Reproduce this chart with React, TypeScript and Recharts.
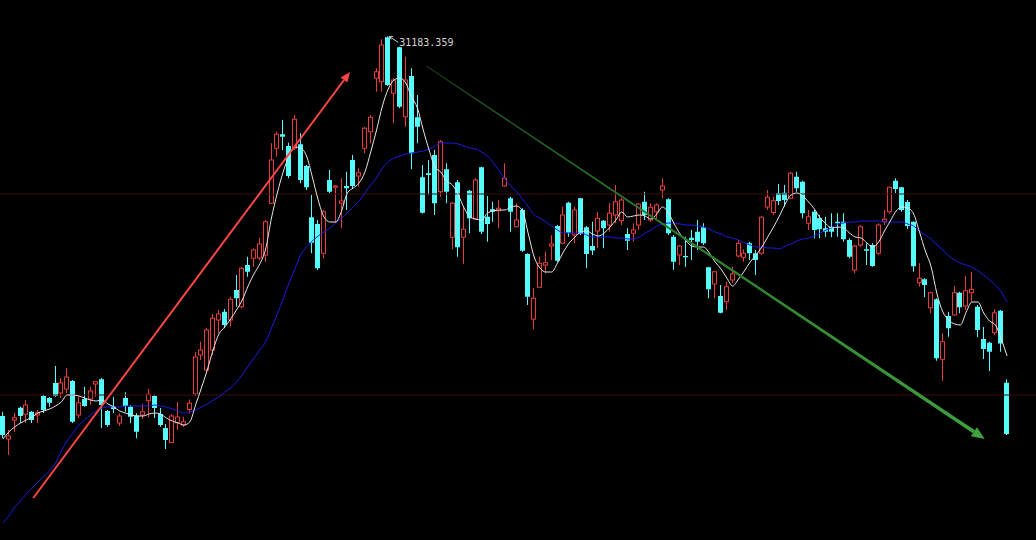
import React from "react";
import {
  Bar,
  ComposedChart,
  Line,
  ReferenceDot,
  ReferenceLine,
  XAxis,
  YAxis
} from "recharts";

// daily OHLC (index points)
const opens = [
  16000, 15080, 15840, 16330, 16070, 16170, 16040, 16800, 16720, 17320,
  16920, 17080, 17400, 16040, 16680, 16680, 17280, 17470, 16200, 16380,
  15720, 16720, 16370, 16020, 16040, 16610, 16800, 16080, 15520, 14940,
  15730, 15640, 16260, 16880, 18440, 17840, 18640, 19840, 20170, 19840,
  21040, 20370, 22040, 22310, 22320, 22440, 24510, 26710, 27270, 26800,
  26710, 26870, 26000, 23950, 23680, 22510, 25440, 25150, 24510, 25200,
  26240, 25600, 26710, 27370, 29510, 29370, 31150, 28910, 30750, 27970,
  29600, 27950, 25550, 25710, 26440, 24970, 25870, 23150, 25350, 23150,
  25010, 23870, 25950, 23970, 24270, 24210, 25200, 24710, 23570, 24240,
  22480, 19870, 21150, 22040, 22800, 23600, 22910, 24530, 23240, 24710,
  23550, 22800, 23400, 23810, 23640, 24040, 23810, 23280, 23310, 23640,
  24570, 23840, 24170, 25040, 24670, 23170, 22440, 22400, 23130, 23370,
  23550, 21950, 21280, 20800, 20570, 21440, 22400, 22350, 22910, 22510,
  22510, 24360, 24140, 24920, 24930, 24710, 25570, 25370, 23710, 24170,
  23910, 23510, 23570, 23770, 23770, 23040, 21840, 22840, 22670, 22840,
  22510, 23770, 24170, 25410, 25150, 24560, 23770, 21330, 21470, 20330,
  20670, 18270, 20000, 20040, 20930, 20400, 20930, 20370, 19080, 18930,
  19330, 20210, 17330
];

const highs = [
  16170, 15440, 16120, 16370, 16640, 16200, 16240, 16840, 16760, 18000,
  17520, 17920, 17440, 16770, 17170, 17170, 17380, 17520, 16240, 16770,
  16110, 16950, 16440, 16110, 16480, 17080, 16840, 16320, 15680, 16080,
  16560, 15970, 16660, 18560, 18970, 19520, 20080, 20240, 20280, 20770,
  21640, 21970, 22370, 22710, 23120, 23840, 26910, 27370, 27840, 26930,
  28040, 27310, 26040, 24840, 23840, 24240, 25840, 25240, 25510, 25770,
  26440, 25910, 27570, 28040, 29910, 31070, 31183.359, 29510, 30770, 30370,
  29910, 28840, 26040, 26240, 26640, 27040, 26110, 24570, 25440, 24370,
  25040, 25510, 25970, 24800, 24570, 24640, 26110, 24770, 24510, 24310,
  22510, 21110, 22370, 22570, 23240, 23640, 24370, 24570, 24370, 24720,
  23600, 23770, 24160, 23840, 24510, 25240, 24710, 23510, 23710, 24510,
  24970, 24510, 24510, 25510, 24710, 23240, 22840, 23170, 23440, 23840,
  23710, 21970, 21800, 21240, 21370, 21970, 23040, 22670, 22970, 22640,
  24000, 25040, 24770, 25280, 25240, 25770, 25770, 25410, 24240, 24240,
  24040, 23970, 24110, 24110, 24110, 23110, 22840, 23640, 22910, 22910,
  23710, 24240, 25170, 25510, 25170, 24640, 23780, 22110, 21510, 20970,
  20710, 19310, 20170, 21200, 20970, 21600, 21770, 20440, 19560, 18970,
  20270, 20240, 17470
];

const lows = [
  15120, 14440, 15360, 15720, 15720, 15720, 15720, 16120, 16370, 16770,
  16720, 16920, 15720, 15920, 16370, 16440, 16770, 15520, 15570, 16110,
  15600, 16170, 15710, 15110, 15880, 15940, 15920, 15570, 14680, 14920,
  15440, 15560, 16110, 16800, 18240, 17760, 18440, 19320, 19510, 19570,
  20370, 20310, 21570, 21970, 22240, 22160, 24500, 26370, 26640, 25510,
  26640, 25310, 25040, 22510, 21840, 22310, 24910, 23720, 23510, 24240,
  25110, 25170, 26510, 26910, 28970, 28970, 29200, 27710, 28310, 27570,
  25870, 26910, 24100, 24840, 24040, 24770, 24510, 22670, 22370, 22080,
  23310, 23840, 23280, 22970, 23770, 23510, 25170, 23370, 23550, 22570,
  20440, 19470, 21110, 21710, 22240, 22170, 22880, 23170, 22910, 23240,
  21910, 22440, 22720, 22710, 23370, 23710, 23640, 22640, 22970, 23440,
  23840, 23770, 23840, 24710, 23240, 21840, 22040, 21970, 22240, 22640,
  22840, 20710, 20710, 20110, 20240, 21310, 22350, 22170, 22240, 21640,
  22440, 24240, 24040, 24440, 24370, 24670, 24970, 23910, 23440, 23110,
  23110, 23170, 23150, 23170, 22970, 22310, 21710, 22770, 22040, 21970,
  22440, 23640, 24110, 24920, 24170, 23480, 21770, 21170, 20750, 20110,
  18210, 17410, 19170, 20020, 20110, 20240, 20570, 19150, 18280, 17800,
  19240, 18570, 15240
];

const closes = [
  15240, 15200, 15930, 16000, 16440, 15840, 16130, 16240, 16530, 16800,
  17320, 17560, 15770, 16530, 16400, 17000, 17370, 16440, 15640, 16280,
  16000, 16400, 15970, 15370, 16170, 16870, 16320, 15640, 15040, 16000,
  15960, 15770, 16510, 18360, 18640, 19440, 19910, 20080, 19640, 20670,
  20710, 21910, 21770, 22640, 22880, 23770, 26240, 27270, 27170, 25600,
  27870, 25440, 25150, 22930, 21910, 24170, 24970, 25200, 24600, 25110,
  25200, 25730, 27510, 27950, 29770, 30840, 29240, 29440, 28370, 29440,
  26510, 27570, 24130, 25640, 24510, 26970, 24970, 24510, 22750, 23470,
  23910, 25440, 23370, 23680, 24170, 24310, 25510, 24170, 23840, 22610,
  20770, 20710, 22110, 22130, 22880, 22210, 24040, 23330, 24240, 23280,
  22480, 22620, 23910, 23510, 24110, 24570, 24640, 23010, 23440, 24480,
  24040, 24350, 24440, 25200, 23310, 22170, 22800, 22350, 23040, 22970,
  22910, 21070, 21770, 20130, 21170, 21680, 22910, 22510, 22510, 22240,
  23950, 24750, 24610, 24600, 24640, 25710, 25110, 24110, 23970, 23440,
  23470, 23370, 23370, 23710, 23070, 22370, 22800, 23570, 22610, 22000,
  23640, 23870, 25150, 25080, 24240, 23600, 21990, 21510, 21240, 20930,
  18310, 18970, 19510, 20930, 20350, 21010, 21070, 19440, 18680, 18570,
  20130, 18900, 15280
];

// white short average and blue long average as drawn in the picture
const ma5 = [
  15080, 15360, 15560, 15720, 15840, 15960, 16120, 16200, 16280, 16400,
  16560, 16840, 16840, 16800, 16720, 16640, 16600, 16640, 16480, 16360,
  16200, 16120, 16040, 16000, 16000, 16080, 16120, 16080, 15920, 15800,
  15720, 15640, 15760, 16440, 17120, 17840, 18640, 19280, 19560, 19880,
  20240, 20640, 21200, 21680, 22080, 22680, 23920, 24920, 25760, 26400,
  26760, 26720, 26400, 25560, 24640, 23960, 23760, 23760, 24200, 24920,
  25120, 25320, 25760, 26560, 27440, 28400, 29080, 29440, 29520, 29320,
  28760, 28320, 27440, 26640, 25960, 25760, 25400, 25240, 24840, 24320,
  23960, 23880, 23840, 24120, 24200, 24240, 24240, 24360, 24400, 24200,
  23280, 22360, 21920, 21760, 21760, 22120, 22560, 22920, 23160, 23360,
  23400, 23280, 23200, 23320, 23560, 23840, 24160, 23960, 24000, 24040,
  24000, 23880, 24080, 24360, 24120, 23680, 23280, 23000, 22800, 22760,
  22760, 22520, 22160, 21880, 21520, 21200, 21480, 21800, 22160, 22440,
  22760, 23160, 23560, 24000, 24480, 24840, 24920, 24800, 24560, 24280,
  23920, 23680, 23520, 23560, 23520, 23320, 23160, 23120, 22920, 22760,
  22960, 23400, 23800, 24200, 24360, 24320, 24080, 23360, 22600, 21960,
  20880, 20160, 19840, 19680, 19640, 20160, 20560, 20560, 20120, 19800,
  19640, 19080, 18400
];

const ma20 = [
  11720, 12000, 12360, 12600, 12880, 13120, 13360, 13600, 13800, 14120,
  14600, 15000, 15320, 15640, 15840, 16040, 16200, 16320, 16360, 16360,
  16360, 16400, 16400, 16400, 16400, 16400, 16440, 16400, 16360, 16280,
  16200, 16120, 16160, 16240, 16360, 16480, 16640, 16760, 16960, 17120,
  17360, 17640, 18000, 18320, 18640, 18960, 19520, 20080, 20680, 21320,
  21880, 22440, 22760, 23000, 23200, 23360, 23520, 23720, 23920, 24120,
  24360, 24600, 24920, 25240, 25520, 25920, 26160, 26320, 26400, 26480,
  26520, 26560, 26600, 26680, 26800, 26920, 26920, 26920, 26880, 26800,
  26720, 26680, 26560, 26400, 26120, 25800, 25480, 25200, 24960, 24680,
  24360, 24040, 23920, 23760, 23600, 23440, 23320, 23320, 23320, 23320,
  23240, 23160, 23160, 23160, 23160, 23120, 23120, 23080, 23080, 23160,
  23320, 23440, 23600, 23680, 23720, 23720, 23680, 23640, 23640, 23600,
  23560, 23480, 23360, 23280, 23160, 23120, 23040, 22920, 22840, 22760,
  22760, 22720, 22720, 22680, 22800, 22880, 23000, 23080, 23120, 23200,
  23320, 23440, 23520, 23680, 23720, 23760, 23760, 23800, 23800, 23800,
  23800, 23760, 23760, 23760, 23760, 23680, 23600, 23400, 23240, 23080,
  22840, 22640, 22400, 22240, 22120, 22040, 21960, 21800, 21640, 21440,
  21240, 20960, 20560
];

const peakIndex = 66;
const peakPrice = 31183.359;
const gridPrices = [24880, 16840];
// hand-drawn trend arrows, in (bar index, price)
const upTrend = [
  { x: 5.67, y: 12720 },
  { x: 59.6, y: 29760 }
];
const downTrend = [
  { x: 72.6, y: 30000 },
  { x: 167.7, y: 15080 }
];

const UP = "#e63c3c";
const DOWN = "#54fcfc";

const data = opens.map((open, i) => ({
  i,
  open,
  high: highs[i],
  low: lows[i],
  close: closes[i],
  range: [lows[i], highs[i]],
  ma5: ma5[i],
  ma20: ma20[i]
}));

function Candle(props: any) {
  const { x, y, width, height, payload } = props;
  if (!payload || x == null) return null;
  const top = Math.min(y, y + height);
  const bot = Math.max(y, y + height);
  const { open, high, low, close } = payload;
  const span = high - low || 1;
  const py = (v: number) => top + ((high - v) / span) * (bot - top);
  const left = Math.round(x + width / 2 - 2.5);
  const mid = left + 2.5;
  const bTop = py(Math.max(open, close));
  const bBot = py(Math.min(open, close));
  const bh = Math.max(bBot - bTop, 1);

  if (close >= open) {
    return (
      <g>
        <line x1={mid} x2={mid} y1={top} y2={bTop} stroke={UP} />
        <line x1={mid} x2={mid} y1={bTop + bh} y2={bot} stroke={UP} />
        <rect x={left + 0.5} y={bTop} width={4} height={bh} fill="#000" stroke={UP} />
      </g>
    );
  }
  return (
    <g>
      <line x1={mid} x2={mid} y1={top} y2={bot} stroke={DOWN} />
      <rect x={left} y={bTop} width={5} height={bh} fill={DOWN} />
    </g>
  );
}

function arrowShape(id: string, from: string, to: string, w0: number, w1: number, head: number) {
  return (p: any) => {
    const { x1, y1, x2, y2 } = p;
    if (x1 == null || x2 == null) return null;
    const dx = x2 - x1;
    const dy = y2 - y1;
    const len = Math.hypot(dx, dy) || 1;
    const ux = dx / len;
    const uy = dy / len;
    const nx = -uy;
    const ny = ux;
    const bx = x2 - ux * head;
    const by = y2 - uy * head;
    const hw = head * 0.42;
    const shaft = [
      [x1 + (nx * w0) / 2, y1 + (ny * w0) / 2],
      [bx + (nx * w1) / 2, by + (ny * w1) / 2],
      [bx - (nx * w1) / 2, by - (ny * w1) / 2],
      [x1 - (nx * w0) / 2, y1 - (ny * w0) / 2]
    ];
    const tip = [
      [x2, y2],
      [bx + nx * hw, by + ny * hw],
      [bx - nx * hw, by - ny * hw]
    ];
    return (
      <g>
        <defs>
          <linearGradient id={id} gradientUnits="userSpaceOnUse" x1={x1} y1={y1} x2={x2} y2={y2}>
            <stop offset="0" stopColor={from} />
            <stop offset="1" stopColor={to} />
          </linearGradient>
        </defs>
        <polygon points={shaft.map((q) => q.join(",")).join(" ")} fill={`url(#${id})`} />
        <polygon points={tip.map((q) => q.join(",")).join(" ")} fill={to} />
      </g>
    );
  };
}

function PeakLabel(props: any) {
  const { cx, cy } = props;
  if (cx == null) return null;
  return (
    <g>
      <line x1={cx + 10} y1={cy + 6} x2={cx + 1} y2={cy} stroke="#c8c8c8" />
      <polyline
        points={`${cx + 5},${cy} ${cx + 1},${cy} ${cx + 3},${cy + 3}`}
        stroke="#c8c8c8"
        fill="none"
      />
      <text
        x={cx + 11}
        y={cy + 10}
        fill="#d2d2d2"
        fontSize={10}
        fontFamily="'DejaVu Sans Mono', monospace"
      >
        {peakPrice.toFixed(3)}
      </text>
    </g>
  );
}

export default function App() {
  return (
    <div
      style={{
        position: "absolute",
        left: 0,
        top: 0,
        width: 1036,
        height: 540,
        background: "#000",
        overflow: "hidden"
      }}
    >
      <ComposedChart
        width={1036}
        height={540}
        data={data}
        margin={{ top: 0, right: 26, bottom: 0, left: 0 }}
        barCategoryGap={0}
      >
        <XAxis dataKey="i" hide />
        <XAxis xAxisId="n" type="number" domain={[-0.5, 172.5]} hide />
        <YAxis hide domain={[11040, 32640]} />
        {gridPrices.map((p) => (
          <ReferenceLine
            key={p}
            xAxisId="n"
            segment={[
              { x: -0.5, y: p },
              { x: 177, y: p }
            ]}
            ifOverflow="visible"
            stroke="#420c0c"
          />
        ))}
        <Bar dataKey="range" barSize={5} shape={<Candle />} isAnimationActive={false} />
        <Line
          dataKey="ma20"
          type="monotone"
          stroke="#1c1ce0"
          strokeWidth={1}
          dot={false}
          activeDot={false}
          isAnimationActive={false}
        />
        <Line
          dataKey="ma5"
          type="monotone"
          stroke="#e6e6e6"
          strokeWidth={1}
          dot={false}
          activeDot={false}
          isAnimationActive={false}
        />
        <ReferenceLine
          xAxisId="n"
          segment={upTrend}
          ifOverflow="visible"
          shape={arrowShape("upArrow", "#ff4646", "#ff4646", 2, 2, 10)}
        />
        <ReferenceLine
          xAxisId="n"
          segment={downTrend}
          ifOverflow="visible"
          shape={arrowShape("downArrow", "#1b5a1b", "#3fa23f", 0.9, 3.6, 13)}
        />
        <ReferenceDot
          x={peakIndex}
          y={peakPrice}
          r={0}
          ifOverflow="visible"
          shape={(p: any) => <PeakLabel {...p} />}
        />
      </ComposedChart>
    </div>
  );
}
